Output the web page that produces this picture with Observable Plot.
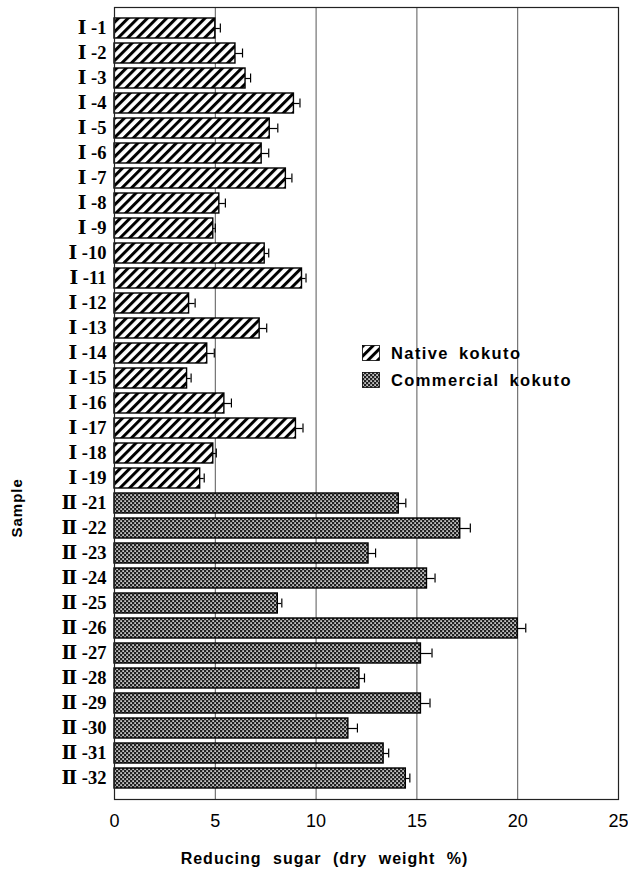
<!DOCTYPE html>
<html><head><meta charset="utf-8">
<script src="https://cdn.jsdelivr.net/npm/d3@7"></script>
<script src="https://cdn.jsdelivr.net/npm/@observablehq/plot@0.6"></script>
<style>
body{margin:0;background:#fff;}
#wrap{position:relative;width:628px;height:878px;}
g[aria-label^="y-axis"] text{font-family:"Liberation Serif","DejaVu Serif",serif;font-weight:bold;font-size:18.5px;}
g[aria-label^="x-axis"] text{font-family:"Liberation Sans",Arial,sans-serif;font-size:18px;}
g[aria-label="text"] text{letter-spacing:1px;word-spacing:6px;}
.lg{position:absolute;font-family:"Liberation Sans",Arial,sans-serif;font-weight:bold;font-size:16.5px;letter-spacing:1.4px;word-spacing:4px;white-space:nowrap;line-height:16px;}
.sw{position:absolute;width:18px;height:16px;}
</style></head><body><div id="wrap"></div>
<script>
const samples = ["Ⅰ -1","Ⅰ -2","Ⅰ -3","Ⅰ -4","Ⅰ -5","Ⅰ -6","Ⅰ -7","Ⅰ -8","Ⅰ -9","Ⅰ -10","Ⅰ -11","Ⅰ -12","Ⅰ -13","Ⅰ -14","Ⅰ -15","Ⅰ -16","Ⅰ -17","Ⅰ -18","Ⅰ -19",
  "Ⅱ -21","Ⅱ -22","Ⅱ -23","Ⅱ -24","Ⅱ -25","Ⅱ -26","Ⅱ -27","Ⅱ -28","Ⅱ -29","Ⅱ -30","Ⅱ -31","Ⅱ -32"];
const values = [5.0,6.0,6.5,8.9,7.7,7.3,8.5,5.2,4.9,7.45,9.3,3.7,7.2,4.6,3.6,5.45,9.0,4.9,4.25,
  14.1,17.15,12.6,15.5,8.1,20.0,15.2,12.15,15.2,11.6,13.35,14.45];
const errors = [0.25,0.35,0.25,0.3,0.4,0.35,0.3,0.3,0.1,0.2,0.2,0.3,0.35,0.35,0.2,0.35,0.35,0.15,0.2,
  0.35,0.5,0.35,0.4,0.2,0.4,0.55,0.25,0.45,0.45,0.25,0.2];
const groups = ["Native kokuto","Commercial kokuto"];
const groupSizes = [19, 12];
const xTicks = [0,5,10,15,20,25];
const gridValues = [5,10,15,20];
const xLabel = "Reducing sugar (dry weight %)";
const yLabel = "Sample";

const groupOf = samples.map((s,i) => i < groupSizes[0] ? groups[0] : groups[1]);
const data = samples.map((s,i) => ({sample:s, value:values[i], err:errors[i], group:groupOf[i]}));

const chart = Plot.plot({
  width: 628, height: 878,
  marginLeft: 114, marginRight: 10, marginTop: 7, marginBottom: 79,
  style: {fontFamily: "Liberation Sans, Arial, sans-serif", background: "#fff", color: "#000"},
  x: {domain: [0,25], ticks: xTicks, tickSize: 0, tickPadding: 15, label: null},
  y: {domain: samples, tickSize: 0, tickPadding: 8, paddingInner: 0.22, paddingOuter: 0.11, label: null},
  marks: [
    Plot.ruleX(gridValues, {stroke: "#444", strokeWidth: 0.9}),
    Plot.barX(data, {filter: d => d.group === groups[0], x: "value", y: "sample", fill: "url(#hatch)", stroke: "#000", strokeWidth: 1.4}),
    Plot.barX(data, {filter: d => d.group === groups[1], x: "value", y: "sample", fill: "url(#dots)", stroke: "#000", strokeWidth: 1.4}),
    Plot.ruleY(data, {y: "sample", x1: "value", x2: d => d.value + d.err, stroke: "#000", strokeWidth: 1.2}),
    Plot.tickX(data, {x: d => d.value + d.err, y: "sample", insetTop: 5.5, insetBottom: 5.5, stroke: "#000", strokeWidth: 1.2}),
    Plot.frame({stroke: "#222", strokeWidth: 1.2}),
    Plot.text([xLabel], {frameAnchor: "bottom", dx: -42, dy: 64, fontSize: 16, fontWeight: "bold", fill: "#000"}),
    Plot.text([yLabel], {frameAnchor: "left", rotate: -90, dx: -97, dy: 134, fontSize: 15, fontWeight: "bold", fill: "#000"})
  ]
});

d3.select(chart).insert("defs", ":first-child").html(`
  <pattern id="hatch" patternUnits="userSpaceOnUse" width="6.8" height="6.8" patternTransform="rotate(45)">
    <rect width="6.8" height="6.8" fill="#fff"/>
    <rect x="0" y="0" width="3" height="6.8" fill="#000"/>
  </pattern>
  <pattern id="dots" patternUnits="userSpaceOnUse" width="4" height="4">
    <rect width="4" height="4" fill="#222"/>
    <rect x="0.3" y="0.3" width="1.6" height="1.6" fill="#eee"/>
    <rect x="2.3" y="2.3" width="1.6" height="1.6" fill="#eee"/>
  </pattern>`);

const wrap = document.getElementById("wrap");
wrap.appendChild(chart);

// legend (HTML overlay)
const legendRows = [{label: groups[0], fill: "url(#hatch)", top: 345}, {label: groups[1], fill: "url(#dots)", top: 372}];
for (const r of legendRows) {
  const sw = document.createElementNS("http://www.w3.org/2000/svg", "svg");
  sw.setAttribute("class", "sw");
  sw.style.left = "362px"; sw.style.top = r.top + "px";
  sw.innerHTML = `<rect x="0.5" y="0.5" width="17" height="15" fill="${r.fill}" stroke="#000" stroke-width="0.8"/>`;
  wrap.appendChild(sw);
  const t = document.createElement("div");
  t.className = "lg"; t.textContent = r.label;
  t.style.left = "391px"; t.style.top = r.top + "px";
  wrap.appendChild(t);
}
</script></body></html>
